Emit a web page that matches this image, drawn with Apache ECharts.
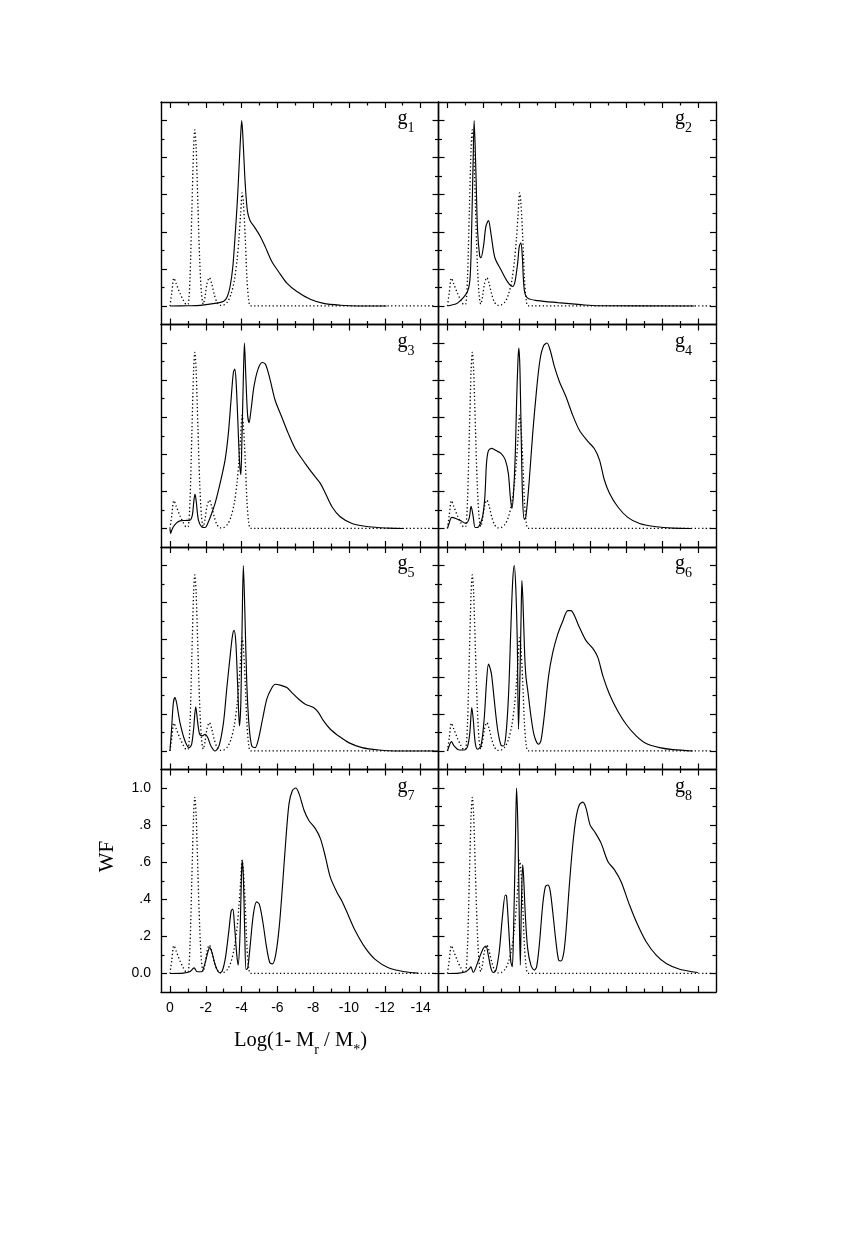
<!DOCTYPE html>
<html><head><meta charset="utf-8">
<script src="https://cdn.jsdelivr.net/npm/echarts@6/dist/echarts.min.js"></script>
<style>html,body{margin:0;padding:0;background:#fff}#c{width:862px;height:1241px}</style>
</head><body><div id="c"></div>
<script>
// ---- data ----
const panelNames = ['1','2','3','4','5','6','7','8'];
const xMajorTicks = [0,-2,-4,-6,-8,-10,-12,-14];
const xTickLabels = ['0','-2','-4','-6','-8','-10','-12','-14'];
const xMinorTicks = [-1,-3,-5,-7,-9,-11,-13];
const yMajorTicks = [0,0.2,0.4,0.6,0.8,1.0];
const yTickLabels = ['0.0','.2','.4','.6','.8','1.0'];
const yMinorTicks = [0.1,0.3,0.5,0.7,0.9];

const dotted = [[0,0],[-0.1,0.07],[-0.22,0.15],[-0.35,0.12],[-0.55,0.07],[-0.75,0.03],[-0.92,0.008],[-1.02,0.01],[-1.12,0.15],[-1.22,0.5],[-1.32,0.85],[-1.39,0.95],[-1.46,0.86],[-1.56,0.55],[-1.66,0.25],[-1.76,0.07],[-1.86,0.01],[-1.96,0.05],[-2.07,0.12],[-2.2,0.153],[-2.33,0.12],[-2.48,0.06],[-2.63,0.02],[-2.8,0.003],[-3.0,0.005],[-3.2,0.02],[-3.4,0.06],[-3.6,0.14],[-3.75,0.25],[-3.85,0.36],[-3.95,0.5],[-4.03,0.61],[-4.1,0.56],[-4.2,0.38],[-4.3,0.15],[-4.4,0.03],[-4.5,0],[-4.7,0],[-14.75,0]];

const g1 = [[0,0],[-1.0,0.001],[-1.7,0.003],[-2.6,0.015],[-3.0,0.025],[-3.2,0.05],[-3.36,0.105],[-3.51,0.21],[-3.64,0.38],[-3.77,0.575],[-3.88,0.79],[-3.96,0.94],[-4.01,1.0],[-4.1,0.86],[-4.2,0.665],[-4.33,0.51],[-4.48,0.46],[-4.76,0.42],[-5.04,0.376],[-5.32,0.32],[-5.69,0.24],[-6.06,0.186],[-6.53,0.123],[-7.09,0.078],[-7.84,0.036],[-8.58,0.014],[-9.51,0.004],[-10.45,0.0],[-12.1,0]];
const g2 = [[0,0],[-0.2,0.004],[-0.56,0.015],[-1.12,0.078],[-1.27,0.16],[-1.36,0.45],[-1.44,0.81],[-1.49,1.0],[-1.59,0.72],[-1.68,0.41],[-1.8,0.27],[-1.87,0.26],[-2.01,0.32],[-2.15,0.43],[-2.29,0.46],[-2.43,0.39],[-2.65,0.26],[-2.99,0.195],[-3.36,0.13],[-3.64,0.105],[-3.77,0.13],[-3.92,0.23],[-4.01,0.32],[-4.1,0.34],[-4.18,0.27],[-4.29,0.087],[-4.48,0.042],[-5.04,0.029],[-6.16,0.018],[-7.46,0.007],[-8.4,0.001],[-13.8,0]];
const g3 = [[0,0],[-0.04,-0.027],[-0.1,-0.01],[-0.19,0.009],[-0.37,0.03],[-0.56,0.041],[-0.84,0.043],[-1.12,0.045],[-1.25,0.072],[-1.34,0.153],[-1.4,0.186],[-1.47,0.144],[-1.59,0.045],[-1.77,0.009],[-1.96,0.005],[-2.15,0.036],[-2.33,0.081],[-2.52,0.135],[-2.8,0.243],[-3.08,0.37],[-3.26,0.51],[-3.41,0.69],[-3.54,0.84],[-3.62,0.86],[-3.69,0.80],[-3.79,0.585],[-3.88,0.37],[-3.96,0.29],[-4.01,0.44],[-4.09,0.77],[-4.16,1.0],[-4.23,0.84],[-4.33,0.62],[-4.42,0.57],[-4.53,0.64],[-4.7,0.77],[-4.94,0.865],[-5.17,0.895],[-5.35,0.883],[-5.6,0.80],[-5.88,0.69],[-6.25,0.60],[-6.62,0.51],[-7.0,0.43],[-7.56,0.35],[-8.02,0.29],[-8.4,0.243],[-8.68,0.19],[-9.05,0.117],[-9.51,0.063],[-10.17,0.027],[-11.1,0.009],[-12.2,0.002],[-13.06,0]];
const g4 = [[0,0],[-0.09,0.027],[-0.24,0.06],[-0.47,0.054],[-0.75,0.041],[-1.03,0.027],[-1.21,0.054],[-1.32,0.12],[-1.44,0.063],[-1.55,0.005],[-1.74,0.009],[-1.96,0.063],[-2.09,0.171],[-2.18,0.35],[-2.29,0.42],[-2.48,0.432],[-2.71,0.42],[-2.99,0.405],[-3.23,0.37],[-3.4,0.297],[-3.51,0.171],[-3.6,0.108],[-3.69,0.19],[-3.79,0.405],[-3.86,0.676],[-3.94,0.91],[-3.99,0.973],[-4.05,0.856],[-4.12,0.495],[-4.2,0.153],[-4.29,0.049],[-4.38,0.063],[-4.57,0.26],[-4.76,0.51],[-4.98,0.75],[-5.17,0.91],[-5.37,0.985],[-5.56,1.0],[-5.73,0.964],[-5.97,0.874],[-6.25,0.793],[-6.62,0.71],[-7.0,0.61],[-7.37,0.53],[-7.84,0.47],[-8.21,0.43],[-8.49,0.37],[-8.77,0.26],[-9.05,0.19],[-9.51,0.117],[-10.07,0.06],[-10.73,0.027],[-11.66,0.009],[-12.6,0.002],[-13.6,0]];
const g5 = [[0,0],[-0.09,0.117],[-0.19,0.26],[-0.28,0.288],[-0.37,0.26],[-0.56,0.153],[-0.84,0.054],[-1.08,0.018],[-1.21,0.036],[-1.32,0.117],[-1.44,0.238],[-1.55,0.153],[-1.66,0.09],[-1.81,0.081],[-1.96,0.09],[-2.11,0.072],[-2.29,0.027],[-2.52,0],[-2.74,0.027],[-2.99,0.153],[-3.17,0.333],[-3.36,0.51],[-3.49,0.62],[-3.58,0.65],[-3.68,0.585],[-3.79,0.333],[-3.88,0.135],[-3.96,0.26],[-4.03,0.676],[-4.1,1.0],[-4.18,0.766],[-4.29,0.37],[-4.42,0.135],[-4.57,0.027],[-4.76,0.018],[-4.94,0.063],[-5.17,0.171],[-5.41,0.28],[-5.65,0.333],[-5.88,0.36],[-6.16,0.355],[-6.53,0.342],[-6.81,0.315],[-7.18,0.28],[-7.56,0.252],[-8.02,0.234],[-8.3,0.207],[-8.58,0.162],[-8.96,0.117],[-9.42,0.081],[-9.98,0.045],[-10.73,0.018],[-11.66,0.005],[-12.6,0.0],[-15,0]];
const g6 = [[0,0],[-0.13,0.036],[-0.22,0.05],[-0.37,0.027],[-0.65,0.005],[-0.93,0.005],[-1.12,0.023],[-1.25,0.099],[-1.36,0.234],[-1.44,0.171],[-1.55,0.045],[-1.68,0.009],[-1.87,0.027],[-2.05,0.171],[-2.18,0.37],[-2.29,0.468],[-2.37,0.45],[-2.46,0.414],[-2.61,0.279],[-2.8,0.117],[-2.99,0.031],[-3.13,0.027],[-3.26,0.081],[-3.41,0.297],[-3.54,0.658],[-3.64,0.91],[-3.73,1.0],[-3.82,0.874],[-3.9,0.586],[-3.97,0.117],[-4.05,0.405],[-4.12,0.766],[-4.16,0.919],[-4.22,0.80],[-4.31,0.53],[-4.38,0.405],[-4.5,0.315],[-4.66,0.19],[-4.85,0.081],[-5.09,0.036],[-5.22,0.054],[-5.41,0.19],[-5.65,0.405],[-5.88,0.53],[-6.16,0.63],[-6.44,0.70],[-6.72,0.757],[-6.9,0.757],[-7.09,0.73],[-7.37,0.667],[-7.74,0.595],[-8.12,0.553],[-8.4,0.505],[-8.68,0.405],[-9.05,0.306],[-9.51,0.216],[-9.98,0.144],[-10.54,0.081],[-11.1,0.04],[-11.85,0.018],[-12.6,0.007],[-13.7,0]];
const g7 = [[0,0],[-0.74,0.002],[-1.1,0.009],[-1.35,0.03],[-1.52,0.009],[-1.76,0.009],[-1.94,0.049],[-2.13,0.12],[-2.22,0.139],[-2.35,0.112],[-2.55,0.04],[-2.77,0.004],[-2.92,0.013],[-3.1,0.085],[-3.29,0.23],[-3.42,0.338],[-3.51,0.347],[-3.6,0.265],[-3.73,0.103],[-3.81,0.045],[-3.9,0.175],[-3.97,0.428],[-4.03,0.612],[-4.1,0.518],[-4.18,0.211],[-4.25,0.022],[-4.34,0.027],[-4.47,0.139],[-4.66,0.32],[-4.84,0.386],[-4.99,0.374],[-5.18,0.283],[-5.4,0.139],[-5.58,0.058],[-5.73,0.052],[-5.91,0.103],[-6.1,0.247],[-6.28,0.464],[-6.47,0.717],[-6.65,0.915],[-6.84,0.987],[-7.02,1.0],[-7.21,0.97],[-7.49,0.88],[-7.76,0.825],[-8.13,0.78],[-8.41,0.726],[-8.69,0.626],[-8.96,0.518],[-9.33,0.437],[-9.61,0.39],[-9.98,0.31],[-10.35,0.23],[-10.9,0.139],[-11.46,0.076],[-12.2,0.031],[-13.12,0.009],[-13.86,0.002]];
const g8 = [[0,0],[-0.65,0.002],[-1.03,0.009],[-1.22,0.025],[-1.31,0.036],[-1.44,0.005],[-1.53,0.018],[-1.77,0.081],[-2.0,0.135],[-2.15,0.148],[-2.28,0.099],[-2.43,0.027],[-2.56,0.005],[-2.71,0.018],[-2.89,0.117],[-3.08,0.315],[-3.23,0.423],[-3.3,0.418],[-3.41,0.261],[-3.54,0.063],[-3.62,0.036],[-3.69,0.225],[-3.79,0.676],[-3.86,1.0],[-3.94,0.766],[-4.01,0.315],[-4.07,0.045],[-4.12,0.315],[-4.2,0.586],[-4.25,0.53],[-4.35,0.315],[-4.48,0.135],[-4.66,0.045],[-4.85,0.018],[-4.98,0.036],[-5.13,0.153],[-5.32,0.369],[-5.47,0.468],[-5.6,0.477],[-5.73,0.45],[-5.88,0.333],[-6.06,0.171],[-6.21,0.072],[-6.34,0.067],[-6.49,0.108],[-6.62,0.225],[-6.81,0.477],[-7.0,0.694],[-7.18,0.838],[-7.37,0.91],[-7.56,0.924],[-7.74,0.892],[-7.97,0.80],[-8.21,0.766],[-8.58,0.703],[-8.96,0.604],[-9.33,0.559],[-9.7,0.495],[-10.17,0.369],[-10.63,0.261],[-11.1,0.171],[-11.66,0.099],[-12.22,0.054],[-12.97,0.023],[-13.99,0.005]];
const solids = [g1,g2,g3,g4,g5,g6,g7,g8];

// ---- layout ----
const colLeft = [161, 438.5];
const panelW = 277.5;
const rowTop = [102, 324.5, 547, 769.5];
const panelH = 222.5;
const XMIN = -15, XMAX = 0.5, YMIN = -0.1, YMAX = 1.1;
const LABEL_PANEL = 6;
const serif = 'Liberation Serif';
const sans = 'Liberation Sans';

const grids = [], xAxes = [], yAxes = [], series = [], graphics = [];
function tickAxis(kind, gi, pos, ticks, len, main, showLabel) {
  const a = {
    type: 'value', gridIndex: gi, position: pos,
    min: kind === 'x' ? XMIN : YMIN, max: kind === 'x' ? XMAX : YMAX,
    inverse: kind === 'x',
    splitLine: { show: false },
    axisLine: { show: main, onZero: false, lineStyle: { color: '#000', width: 1.4 } },
    axisTick: { show: true, inside: true, length: len, customValues: ticks, lineStyle: { color: '#000', width: 1.2 } },
    axisLabel: { show: false }
  };
  if (showLabel) {
    const labels = kind === 'x' ? xTickLabels : yTickLabels;
    a.axisLabel = {
      show: true, customValues: ticks, color: '#000', fontFamily: sans, fontSize: 14,
      margin: kind === 'x' ? 9 : 10,
      formatter: v => { const i = ticks.findIndex(t => Math.abs(t - v) < 1e-6); return i >= 0 ? labels[i] : ''; }
    };
  }
  return a;
}
for (let i = 0; i < 8; i++) {
  const r = Math.floor(i / 2), c = i % 2;
  grids.push({ left: colLeft[c], top: rowTop[r], width: panelW, height: panelH, containLabel: false });
  const lab = i === LABEL_PANEL;
  xAxes.push(tickAxis('x', i, 'bottom', xMajorTicks, 6, true, lab));
  xAxes.push(tickAxis('x', i, 'bottom', xMinorTicks, 3.5, false, false));
  xAxes.push(tickAxis('x', i, 'top', xMajorTicks, 6, true, false));
  xAxes.push(tickAxis('x', i, 'top', xMinorTicks, 3.5, false, false));
  yAxes.push(tickAxis('y', i, 'left', yMajorTicks, 6, true, lab));
  yAxes.push(tickAxis('y', i, 'left', yMinorTicks, 3.5, false, false));
  yAxes.push(tickAxis('y', i, 'right', yMajorTicks, 6, true, false));
  yAxes.push(tickAxis('y', i, 'right', yMinorTicks, 3.5, false, false));
  series.push({
    type: 'line', xAxisIndex: 4 * i, yAxisIndex: 4 * i, data: dotted, showSymbol: false, smooth: 0.3,
    silent: true, lineStyle: { color: '#000', width: 1.3, type: [1.3, 2.4] }
  });
  series.push({
    type: 'line', xAxisIndex: 4 * i, yAxisIndex: 4 * i, data: solids[i], showSymbol: false, smooth: 0.3,
    silent: true, lineStyle: { color: '#000', width: 1.15 }
  });
  graphics.push({
    type: 'text', left: colLeft[c] + panelW - 41, top: rowTop[r] + 7.2, silent: true,
    style: {
      text: '{g|g}{s|' + panelNames[i] + '}', fill: '#000',
      rich: {
        g: { fontFamily: serif, fontSize: 20, lineHeight: 33, fill: '#000' },
        s: { fontFamily: serif, fontSize: 14, verticalAlign: 'bottom', fill: '#000' }
      }
    }
  });
}
graphics.push({
  type: 'text', x: 300.5, y: 1024.5, silent: true,
  style: {
    text: '{a|Log(1- M}{s|r}{a| / M}{s|*}{a|)}', align: 'center', verticalAlign: 'top', fill: '#000',
    rich: {
      a: { fontFamily: serif, fontSize: 20.5, lineHeight: 33, fill: '#000' },
      s: { fontFamily: serif, fontSize: 14, verticalAlign: 'bottom', fill: '#000' }
    }
  }
});
graphics.push({
  type: 'text', x: 107, y: 856.5, rotation: Math.PI / 2, silent: true,
  style: { text: 'WF', align: 'center', verticalAlign: 'middle', fill: '#000', font: '21px "Liberation Serif"' }
});

const chart = echarts.init(document.getElementById('c'), null, { renderer: 'canvas' });
chart.setOption({
  animation: false, backgroundColor: '#fff',
  grid: grids, xAxis: xAxes, yAxis: yAxes, series: series, graphic: graphics
});
</script></body></html>
